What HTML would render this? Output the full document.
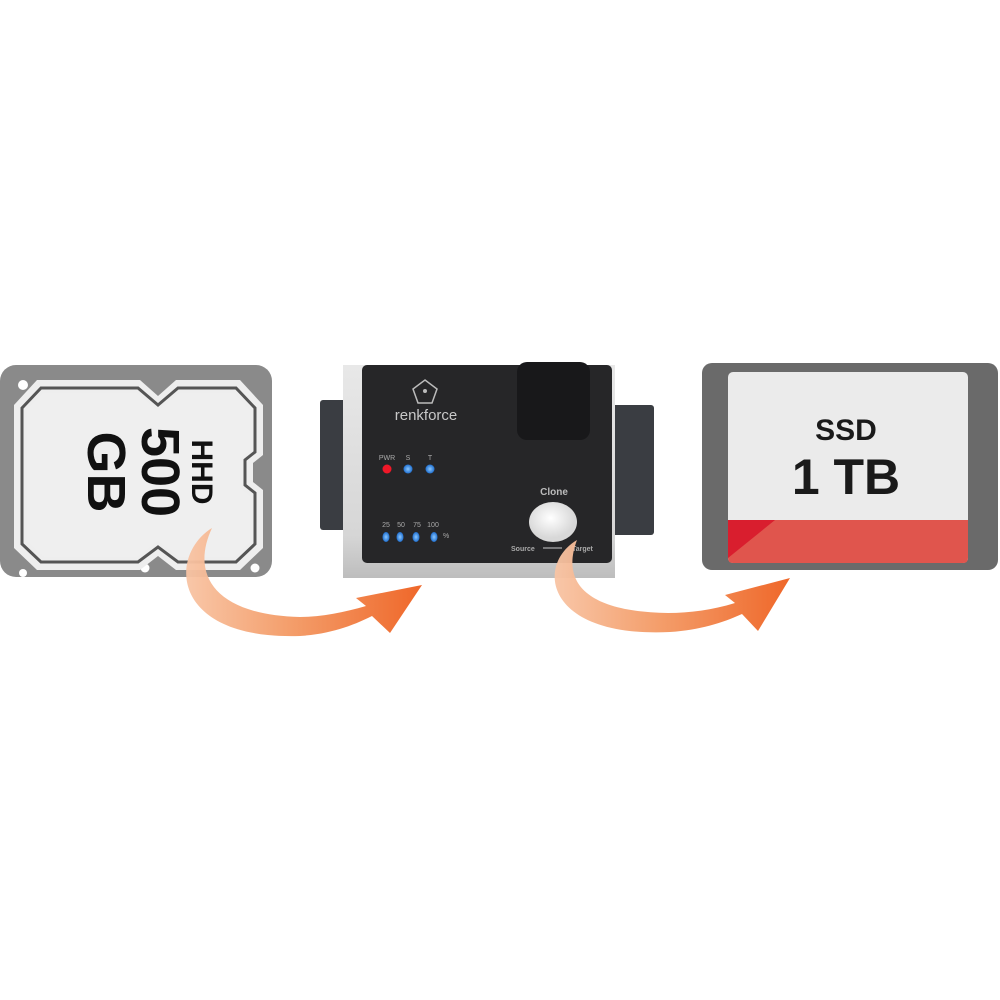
<!DOCTYPE html>
<html><head><meta charset="utf-8"><style>
html,body{margin:0;padding:0;background:#fff;}
svg{display:block;}
text{font-family:"Liberation Sans",sans-serif;}
</style></head><body>
<svg width="1000" height="1000" viewBox="0 0 1000 1000">
<defs>
<linearGradient id="ar" x1="0" y1="0" x2="1" y2="0">
<stop offset="0" stop-color="#f8c4a4"/><stop offset="0.45" stop-color="#f39862"/><stop offset="1" stop-color="#ee5f1e"/>
</linearGradient>
<linearGradient id="sil" x1="0" y1="0" x2="0" y2="1">
<stop offset="0" stop-color="#e8e8e8"/><stop offset="0.8" stop-color="#d6d6d6"/><stop offset="1" stop-color="#bdbdbd"/>
</linearGradient>
<radialGradient id="led"><stop offset="0" stop-color="#8cc8ff"/><stop offset="1" stop-color="#1f6fd0"/></radialGradient>
<radialGradient id="btn" cx="0.45" cy="0.4"><stop offset="0" stop-color="#ffffff"/><stop offset="1" stop-color="#d8d8d8"/></radialGradient>
</defs>

<!-- HDD -->
<rect x="0" y="365" width="272" height="212" rx="16" fill="#8a8a8a"/>
<circle cx="23" cy="385" r="5" fill="#fff"/>
<circle cx="145" cy="568" r="4.5" fill="#fff"/>
<circle cx="255" cy="568" r="4.5" fill="#fff"/>
<circle cx="23" cy="573" r="4" fill="#fff"/>
<polygon points="14,405 37,380 140,380 158,396 176,380 240,380 263,405 263,455 253,463 253,482 263,490 263,548 240,570 176,570 158,556 140,570 37,570 14,548" fill="#eee"/>
<polygon points="22,408 41,388 138,388 158,405 178,388 236,388 255,408 255,452 245,460 245,485 255,493 255,544 236,562 178,562 158,547 138,562 41,562 22,544" fill="none" stroke="#555" stroke-width="3"/>
<polygon points="27,410 44,393 137,393 158,411 179,393 234,393 250,410 250,450 240,458 240,488 250,496 250,541 234,557 179,557 158,541 137,557 44,557 27,541" fill="#efefef"/>
<g transform="translate(140,472) rotate(90)">
<text x="0" y="-52" text-anchor="middle" font-size="30" font-weight="bold" fill="#111">HHD</text>
<text x="0" y="-2" text-anchor="middle" font-size="54" font-weight="bold" fill="#111">500</text>
<text x="0" y="52" text-anchor="middle" font-size="54" font-weight="bold" fill="#111">GB</text>
</g>

<!-- Device connectors -->
<rect x="320" y="400" width="28" height="130" rx="3" fill="#3a3d42"/>
<rect x="612" y="405" width="42" height="130" rx="3" fill="#3a3d42"/>
<rect x="343" y="365" width="272" height="213" fill="url(#sil)"/>
<rect x="362" y="365" width="250" height="198" rx="5" fill="#262628"/>
<rect x="517" y="362" width="73" height="78" rx="10" fill="#18181a"/>
<!-- logo -->
<polygon points="425,380 437,389 432,403 418,403 413,389" fill="none" stroke="#bbb" stroke-width="1.5"/>
<circle cx="425" cy="391" r="2" fill="#bbb"/>
<text x="426" y="420" text-anchor="middle" font-size="15" fill="#c8c8c8">renkforce</text>
<text x="387" y="460" text-anchor="middle" font-size="7" fill="#aaa">PWR</text>
<text x="408" y="460" text-anchor="middle" font-size="7" fill="#aaa">S</text>
<text x="430" y="460" text-anchor="middle" font-size="7" fill="#aaa">T</text>
<circle cx="387" cy="469" r="4.5" fill="#f01828"/>
<circle cx="408" cy="469" r="4.5" fill="url(#led)"/>
<circle cx="430" cy="469" r="4.5" fill="url(#led)"/>
<text x="386" y="527" text-anchor="middle" font-size="7" fill="#aaa">25</text>
<text x="401" y="527" text-anchor="middle" font-size="7" fill="#aaa">50</text>
<text x="417" y="527" text-anchor="middle" font-size="7" fill="#aaa">75</text>
<text x="433" y="527" text-anchor="middle" font-size="7" fill="#aaa">100</text>
<ellipse cx="386" cy="537" rx="3.5" ry="5" fill="url(#led)"/>
<ellipse cx="400" cy="537" rx="3.5" ry="5" fill="url(#led)"/>
<ellipse cx="416" cy="537" rx="3.5" ry="5" fill="url(#led)"/>
<ellipse cx="434" cy="537" rx="3.5" ry="5" fill="url(#led)"/>
<text x="443" y="538" font-size="7" fill="#aaa">%</text>
<text x="554" y="495" text-anchor="middle" font-size="10" font-weight="bold" fill="#bbb">Clone</text>
<ellipse cx="553" cy="522" rx="24" ry="20" fill="url(#btn)"/>
<text x="511" y="551" font-size="7" font-weight="bold" fill="#aaa">Source</text>
<line x1="543" y1="548" x2="562" y2="548" stroke="#aaa" stroke-width="1.2"/>
<text x="572" y="551" font-size="7" font-weight="bold" fill="#aaa">Target</text>

<!-- SSD -->
<rect x="702" y="363" width="296" height="207" rx="10" fill="#6a6a6a"/>
<rect x="728" y="372" width="240" height="191" rx="5" fill="#ebebeb"/>
<path d="M728,520 H968 V558 Q968,563 963,563 H733 Q728,563 728,558 Z" fill="#e0554d"/>
<polygon points="728,520 775,520 728,558" fill="#d91e2e"/>
<text x="846" y="440" text-anchor="middle" font-size="30" font-weight="bold" fill="#1a1a1a">SSD</text>
<text x="846" y="494" text-anchor="middle" font-size="50" font-weight="bold" fill="#1a1a1a">1 TB</text>

<!-- Arrows -->
<path d="M212,528 C168,555 170,640 300,636 C330,634 352,626 372,616 L390,633 L422,585 L356,598 L366,606 C345,612 322,617 300,617 C215,615 190,575 212,528 Z" fill="url(#ar)" opacity="0.95"/>
<path d="M577,540 C535,565 545,638 670,632 C700,630 722,623 742,614 L758,631 L790,578 L725,595 L735,603 C712,610 690,613 668,613 C590,612 560,585 577,540 Z" fill="url(#ar)" opacity="0.95"/>
</svg>
</body></html>
